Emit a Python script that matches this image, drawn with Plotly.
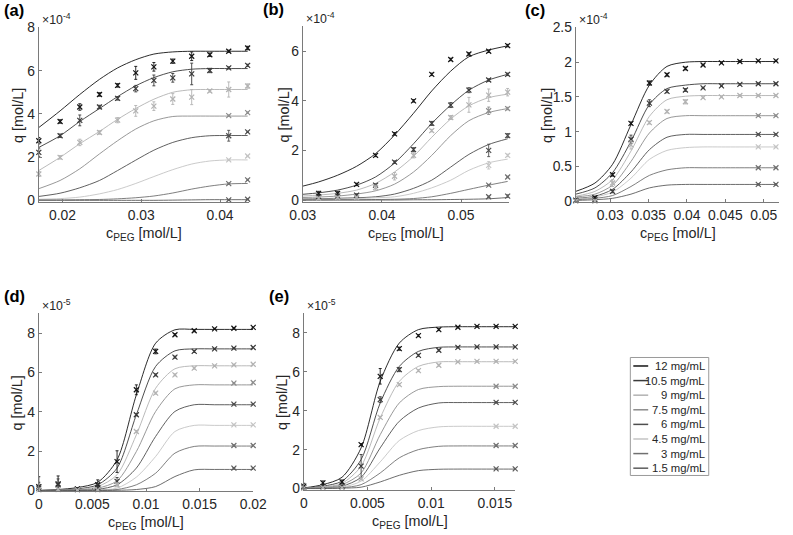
import plotly.graph_objects as go

W, H = 793, 535

LEVELS = ["12 mg/mL", "10.5 mg/mL", "9 mg/mL", "7.5 mg/mL", "6 mg/mL", "4.5 mg/mL", "3 mg/mL", "1.5 mg/mL"]
COLORS = ["#141414", "#3a3a3a", "#b2b2b2", "#8c8c8c", "#4e4e4e", "#c4c4c4", "#707070", "#5c5c5c"]

# ---- panel (a), q in 1e-4 mol/L
XA = [0.0170, 0.0197, 0.0222, 0.0247, 0.0270, 0.0293, 0.0316, 0.0340, 0.0364, 0.0387, 0.0411, 0.0435]
FIT_A = [
    [3.37, 4.14, 4.90, 5.60, 6.13, 6.51, 6.77, 6.87, 6.90, 6.90, 6.90, 6.90],
    [2.45, 2.99, 3.65, 4.25, 4.80, 5.30, 5.68, 5.95, 6.07, 6.10, 6.10, 6.10],
    [1.38, 1.99, 2.62, 3.19, 3.75, 4.25, 4.68, 5.00, 5.12, 5.13, 5.13, 5.13],
    [0.54, 0.92, 1.46, 2.15, 2.76, 3.30, 3.68, 3.88, 3.90, 3.90, 3.90, 3.90],
    [0.18, 0.33, 0.58, 0.92, 1.38, 1.86, 2.32, 2.68, 2.90, 2.99, 3.00, 3.00],
    [0.05, 0.08, 0.15, 0.30, 0.50, 0.78, 1.10, 1.42, 1.68, 1.82, 1.87, 1.87],
    [0.02, 0.02, 0.03, 0.04, 0.07, 0.12, 0.20, 0.34, 0.52, 0.66, 0.76, 0.78],
    [0.00, 0.00, 0.00, 0.00, 0.00, 0.00, 0.00, 0.01, 0.02, 0.03, 0.03, 0.03],
]
DATA_A = [
    [2.76, 3.65, 4.32, 4.90, 5.32, 5.90, 6.18, 6.44, 6.67, 6.74, 6.90, 7.05],
    [2.22, 2.99, 3.70, 4.32, 4.72, 5.17, 5.55, 5.67, 5.85, 6.01, 6.13, 6.25],
    [1.22, 1.99, 2.68, 3.14, 3.71, 4.14, 4.36, 4.69, 4.78, 5.06, 5.13, 5.29],
]
ERR_A = [
    [0.15, 0.08, 0.15, 0.08, 0.08, 0.30, 0.20, 0.10, 0.20, 0.08, 0.05, 0.08],
    [0.20, 0.08, 0.25, 0.08, 0.08, 0.15, 0.25, 0.20, 0.50, 0.10, 0.05, 0.05],
    [0.12, 0.08, 0.15, 0.08, 0.12, 0.25, 0.20, 0.25, 0.35, 0.05, 0.35, 0.10],
]
END_A = [[3.92, 4.06], [2.99, 3.17], [1.87, 2.05], [0.77, 0.95], [0.02, 0.05]]
END_ERR_A = [[0.03, 0.03], [0.25, 0.03], [0.03, 0.03], [0.03, 0.03], [0.02, 0.02]]

# ---- panel (b), q in 1e-4 mol/L
XB = [0.0300, 0.0320, 0.0344, 0.0368, 0.0392, 0.0416, 0.0440, 0.0463, 0.0487, 0.0510, 0.0535, 0.0559]
FIT_B = [
    [0.56, 0.73, 1.00, 1.36, 1.87, 2.62, 3.50, 4.40, 5.20, 5.78, 6.05, 6.22],
    [0.23, 0.29, 0.40, 0.60, 0.93, 1.49, 2.27, 3.09, 3.83, 4.43, 4.84, 5.07],
    [0.16, 0.20, 0.27, 0.40, 0.67, 1.13, 1.76, 2.53, 3.27, 3.80, 4.13, 4.27],
    [0.10, 0.12, 0.16, 0.24, 0.37, 0.64, 1.13, 1.80, 2.60, 3.20, 3.53, 3.69],
    [0.04, 0.05, 0.07, 0.09, 0.13, 0.24, 0.47, 0.80, 1.33, 1.84, 2.24, 2.47],
    [0.02, 0.03, 0.04, 0.06, 0.09, 0.13, 0.27, 0.49, 0.80, 1.20, 1.50, 1.65],
    [0.00, 0.00, 0.01, 0.01, 0.02, 0.03, 0.06, 0.13, 0.27, 0.43, 0.60, 0.75],
    [0.00, 0.00, 0.00, 0.00, 0.00, 0.00, 0.01, 0.01, 0.02, 0.03, 0.05, 0.10],
]
DATA_B = [
    [0.27, 0.27, 0.63, 1.80, 2.67, 4.00, 5.07, 5.67, 5.89, 6.00, 6.23],
    [0.13, 0.16, 0.20, 0.60, 1.53, 2.03, 3.09, 3.83, 4.43, 4.84, 5.07],
    [0.07, 0.10, 0.10, 0.50, 0.96, 1.80, 2.80, 3.33, 3.84, 4.23, 4.35],
]
ERR_B = [
    [0.08, 0.08, 0.05, 0.05, 0.05, 0.05, 0.05, 0.05, 0.05, 0.05, 0.05],
    [0.05, 0.05, 0.05, 0.05, 0.05, 0.08, 0.08, 0.10, 0.10, 0.05, 0.05],
    [0.05, 0.05, 0.05, 0.10, 0.15, 0.10, 0.05, 0.08, 0.30, 0.25, 0.15],
]
END_B = [[3.60, 3.69], [2.00, 2.60], [1.40, 1.80], [0.60, 0.93], [0.13, 0.16]]
END_ERR_B = [[0.15, 0.05], [0.25, 0.08], [0.15, 0.05], [0.03, 0.03], [0.03, 0.05]]

# ---- panel (c), q in 1e-4 mol/L
XC = [0.0255, 0.0280, 0.0303, 0.0327, 0.0351, 0.0374, 0.0398, 0.0421, 0.0445, 0.0469, 0.0493, 0.0516]
FIT_C = [
    [0.14, 0.26, 0.53, 1.10, 1.67, 1.94, 2.00, 2.01, 2.01, 2.01, 2.01, 2.01],
    [0.10, 0.19, 0.41, 0.86, 1.39, 1.62, 1.67, 1.69, 1.69, 1.69, 1.69, 1.69],
    [0.07, 0.14, 0.31, 0.72, 1.22, 1.46, 1.51, 1.52, 1.52, 1.52, 1.52, 1.52],
    [0.06, 0.10, 0.23, 0.57, 0.98, 1.19, 1.23, 1.23, 1.23, 1.23, 1.23, 1.23],
    [0.04, 0.07, 0.17, 0.42, 0.74, 0.92, 0.96, 0.96, 0.96, 0.96, 0.96, 0.96],
    [0.03, 0.06, 0.13, 0.33, 0.60, 0.73, 0.77, 0.78, 0.78, 0.78, 0.78, 0.78],
    [0.02, 0.04, 0.08, 0.21, 0.37, 0.45, 0.48, 0.48, 0.48, 0.48, 0.48, 0.48],
    [0.01, 0.02, 0.04, 0.10, 0.19, 0.23, 0.24, 0.24, 0.24, 0.24, 0.24, 0.24],
]
DATA_C = [
    [0.01, 0.05, 0.38, 1.12, 1.70, 1.82, 1.91, 1.96, 1.99, 2.01, 2.02, 2.02],
    [0.01, 0.02, 0.14, 0.89, 1.41, 1.58, 1.60, 1.63, 1.66, 1.68, 1.69, 1.69],
    [0.00, 0.00, 0.26, 0.81, 1.13, 1.29, 1.43, 1.49, 1.50, 1.52, 1.52, 1.52],
]
ERR_C = [
    [0.02, 0.02, 0.02, 0.02, 0.03, 0.02, 0.02, 0.01, 0.01, 0.01, 0.01, 0.01],
    [0.02, 0.02, 0.02, 0.06, 0.05, 0.02, 0.02, 0.01, 0.01, 0.01, 0.01, 0.01],
    [0.02, 0.02, 0.05, 0.06, 0.02, 0.02, 0.03, 0.01, 0.01, 0.01, 0.01, 0.01],
]
END_C = [[1.23, 1.23], [0.96, 0.96], [0.78, 0.78], [0.48, 0.48], [0.24, 0.24]]
END_ERR_C = [[0.01, 0.01], [0.01, 0.01], [0.01, 0.01], [0.01, 0.01], [0.01, 0.01]]

# ---- panel (d), q in 1e-5 mol/L
XD = [0.0000, 0.0018, 0.0036, 0.0055, 0.0073, 0.0091, 0.0109, 0.0127, 0.0145, 0.0164, 0.0182, 0.0200]
FIT_D = [
    [0.00, 0.05, 0.15, 0.42, 1.56, 4.86, 7.49, 8.17, 8.19, 8.19, 8.19, 8.19],
    [0.00, 0.03, 0.08, 0.29, 1.14, 3.85, 6.31, 7.10, 7.20, 7.20, 7.20, 7.20],
    [0.00, 0.02, 0.05, 0.20, 0.80, 2.83, 5.20, 6.19, 6.34, 6.34, 6.34, 6.34],
    [0.00, 0.01, 0.03, 0.12, 0.49, 1.98, 4.02, 5.17, 5.37, 5.37, 5.37, 5.37],
    [0.00, 0.00, 0.02, 0.06, 0.29, 1.14, 2.75, 4.02, 4.36, 4.36, 4.36, 4.36],
    [0.00, 0.00, 0.01, 0.03, 0.12, 0.68, 1.73, 3.00, 3.31, 3.31, 3.31, 3.31],
    [0.00, 0.00, 0.00, 0.01, 0.05, 0.29, 0.88, 1.90, 2.24, 2.26, 2.26, 2.26],
    [0.00, 0.00, 0.00, 0.00, 0.01, 0.05, 0.20, 0.71, 1.05, 1.07, 1.07, 1.07],
]
DATA_D = [
    [0.20, 0.34, 0.08, 0.29, 1.47, 5.12, 7.07, 7.92, 8.12, 8.22, 8.25, 8.29],
    [0.12, 0.29, 0.05, 0.15, 0.46, 3.85, 5.88, 6.78, 7.07, 7.20, 7.24, 7.27],
    [0.03, 0.05, 0.03, 0.03, 0.29, 3.00, 4.95, 5.88, 6.22, 6.34, 6.39, 6.42],
]
ERR_D = [
    [0.50, 0.40, 0.05, 0.25, 0.55, 0.25, 0.12, 0.05, 0.05, 0.03, 0.03, 0.03],
    [0.30, 0.30, 0.05, 0.15, 0.20, 0.05, 0.05, 0.05, 0.05, 0.03, 0.03, 0.03],
    [0.10, 0.05, 0.03, 0.03, 0.10, 0.05, 0.05, 0.05, 0.05, 0.03, 0.03, 0.03],
]
END_D = [[5.46, 5.49], [4.39, 4.39], [3.34, 3.34], [2.29, 2.29], [1.14, 1.14]]
END_ERR_D = [[0.03, 0.03], [0.03, 0.03], [0.03, 0.03], [0.03, 0.03], [0.03, 0.03]]

# ---- panel (e), q in 1e-5 mol/L
XE = [0.0000, 0.0015, 0.0030, 0.0045, 0.0060, 0.0075, 0.0090, 0.0106, 0.0121, 0.0136, 0.0151, 0.0166]
FIT_E = [
    [0.03, 0.20, 0.58, 2.09, 5.51, 7.48, 8.17, 8.30, 8.32, 8.32, 8.32, 8.32],
    [0.02, 0.12, 0.38, 1.49, 4.40, 6.28, 7.05, 7.26, 7.28, 7.28, 7.28, 7.28],
    [0.01, 0.08, 0.27, 1.15, 3.63, 5.51, 6.28, 6.51, 6.52, 6.52, 6.52, 6.52],
    [0.01, 0.05, 0.20, 0.80, 2.77, 4.40, 5.09, 5.24, 5.26, 5.26, 5.26, 5.26],
    [0.00, 0.03, 0.12, 0.58, 2.09, 3.46, 4.14, 4.40, 4.42, 4.42, 4.42, 4.42],
    [0.00, 0.02, 0.07, 0.38, 1.37, 2.47, 2.98, 3.17, 3.20, 3.20, 3.20, 3.20],
    [0.00, 0.01, 0.04, 0.20, 0.80, 1.58, 2.00, 2.17, 2.19, 2.19, 2.19, 2.19],
    [0.00, 0.00, 0.02, 0.07, 0.34, 0.68, 0.92, 0.99, 1.00, 1.00, 1.00, 1.00],
]
DATA_E = [
    [0.12, 0.29, 0.34, 2.26, 5.77, 7.19, 7.86, 8.17, 8.29, 8.34, 8.34, 8.34],
    [0.05, 0.10, 0.10, 1.15, 4.57, 6.11, 6.85, 7.11, 7.26, 7.28, 7.28, 7.28],
    [0.02, 0.05, 0.05, 0.50, 3.66, 5.34, 6.06, 6.34, 6.51, 6.54, 6.54, 6.54],
]
ERR_E = [
    [0.15, 0.10, 0.10, 0.05, 0.40, 0.08, 0.05, 0.05, 0.03, 0.03, 0.03, 0.03],
    [0.05, 0.05, 0.05, 0.60, 0.15, 0.10, 0.05, 0.05, 0.03, 0.03, 0.03, 0.03],
    [0.03, 0.03, 0.03, 0.05, 0.05, 0.05, 0.05, 0.05, 0.03, 0.03, 0.03, 0.03],
]
END_E = [[5.26, 5.26], [4.43, 4.43], [3.20, 3.20], [2.21, 2.21], [1.01, 1.01]]
END_ERR_E = [[0.03, 0.03], [0.03, 0.03], [0.03, 0.03], [0.03, 0.03], [0.03, 0.03]]

# label, x, fit, data, err, end data, end err, first data index, x range, y range,
# y ticks, x ticks, x tick text, exponent, box (left, right, top, bottom) in picture px,
# letter x, y-title x
PANELS = [
    ("(a)", XA, FIT_A, DATA_A, ERR_A, END_A, END_ERR_A, 0, [0.0170, 0.0437], [-0.1, 8],
     [0, 2, 4, 6, 8], [0.02, 0.03, 0.04], ["0.02", "0.03", "0.04"], "-4",
     (36, 248, 26, 201), 11, 15),
    ("(b)", XB, FIT_B, DATA_B, ERR_B, END_B, END_ERR_B, 1, [0.0300, 0.0561], [-0.1, 7],
     [0, 2, 4, 6], [0.03, 0.04, 0.05], ["0.03", "0.04", "0.05"], "-4",
     (302, 510, 25, 201), 272, 284),
    ("(c)", XC, FIT_C, DATA_C, ERR_C, END_C, END_ERR_C, 0, [0.0255, 0.0520], [-0.02, 2.5],
     [0, 0.5, 1, 1.5, 2, 2.5], [0.03, 0.035, 0.04, 0.045, 0.05], ["0.03", "0.035", "0.04", "0.045", "0.05"], "-4",
     (577, 783, 26, 201), 536, 548),
    ("(d)", XD, FIT_D, DATA_D, ERR_D, END_D, END_ERR_D, 0, [0.0, 0.0200], [-0.05, 9],
     [0, 2, 4, 6, 8], [0, 0.005, 0.01, 0.015, 0.02], ["0", "0.005", "0.01", "0.015", "0.02"], "-5",
     (36, 252, 312, 490), 11, 15),
    ("(e)", XE, FIT_E, DATA_E, ERR_E, END_E, END_ERR_E, 0, [0.0, 0.0166], [-0.1, 9],
     [0, 2, 4, 6, 8], [0, 0.005, 0.01, 0.015], ["0", "0.005", "0.01", "0.015"], "-5",
     (303, 516, 312, 489), 278, 281),
]

# the photographed page comes out shrunk and centred, so picture px -> paper px
SC, OX, OY = 0.972, 11.0, 6.5


def fx(p):
    return min(max((p - OX) / SC / W, 0.0), 1.0)


def fy(p):
    return min(max(1 - (p - OY) / SC / H, 0.0), 1.0)


def fs(s):
    return s / SC


FONT = "Liberation Sans, Arial, sans-serif"
TXT = "#262626"
AXC = "#7a7a7a"

fig = go.Figure()
annotations = []
shapes = []

for i, (lab, xs, fit, data, err, ends, end_err, d0, xr, yr, yt, xt, xtt, expo, box, lx, tx) in enumerate(PANELS):
    n = "" if i == 0 else str(i + 1)
    xa, ya = "x" + n, "y" + n
    px0, px1, py0, py1 = box
    for k in range(8):
        fig.add_trace(go.Scatter(x=xs, y=fit[k], mode="lines",
                                 line=dict(color=COLORS[k], width=0.9, shape="spline", smoothing=0.8),
                                 xaxis=xa, yaxis=ya, showlegend=False, hoverinfo="skip"))
    for k in range(3):
        fig.add_trace(go.Scatter(x=xs[d0:], y=data[k], mode="markers", cliponaxis=False,
                                 marker=dict(symbol="x-thin", size=5, line=dict(color=COLORS[k], width=1.2)),
                                 error_y=dict(type="data", array=err[k], color=COLORS[k], thickness=0.9, width=1.5),
                                 xaxis=xa, yaxis=ya, showlegend=False))
    for k in range(5):
        fig.add_trace(go.Scatter(x=xs[-2:], y=ends[k], mode="markers", cliponaxis=False,
                                 marker=dict(symbol="x-thin", size=5, line=dict(color=COLORS[k + 3], width=1.2)),
                                 error_y=dict(type="data", array=end_err[k], color=COLORS[k + 3], thickness=0.9, width=1.5),
                                 xaxis=xa, yaxis=ya, showlegend=False))
    common = dict(showline=True, linecolor=AXC, linewidth=1, ticks="inside", ticklen=3, tickcolor=AXC,
                  showgrid=False, zeroline=False, tickfont=dict(family=FONT, size=fs(13.5), color=TXT))
    fig.layout["xaxis" + n] = dict(domain=[fx(px0), fx(px1)], range=xr, anchor=ya, tickvals=xt, ticktext=xtt, **common)
    fig.layout["yaxis" + n] = dict(domain=[fy(py1), fy(py0)], range=yr, anchor=xa, tickvals=yt,
                                   ticktext=[("%g" % v) for v in yt], **common)
    annotations.append(dict(x=fx(lx), y=fy(py0 - 17), xref="paper", yref="paper",
                            text="<b>%s</b>" % lab, showarrow=False, xanchor="center", yanchor="middle",
                            font=dict(family=FONT, size=fs(16), color="#000000")))
    annotations.append(dict(x=fx(px0 + 1), y=fy(py0 - 8), xref="paper", yref="paper",
                            text="\u00d710<sup>%s</sup>" % expo, showarrow=False, xanchor="left", yanchor="middle",
                            font=dict(family=FONT, size=fs(12), color=TXT)))
    annotations.append(dict(x=fx(tx), y=fy((py0 + py1) / 2), xref="paper", yref="paper",
                            text="q [mol/L]", textangle=-90, showarrow=False, xanchor="center", yanchor="middle",
                            font=dict(family=FONT, size=fs(14), color=TXT)))
    annotations.append(dict(x=fx((px0 + px1) / 2), y=fy(py1 + 32), xref="paper", yref="paper",
                            text="c<sub>PEG</sub> [mol/L]", showarrow=False, xanchor="center", yanchor="middle",
                            font=dict(family=FONT, size=fs(14), color=TXT)))

# legend box drawn by hand to keep right-aligned labels
lx0, lx1, ly0, ly1 = 632, 711, 356, 474
shapes.append(dict(type="rect", xref="paper", yref="paper", x0=fx(lx0), x1=fx(lx1), y0=fy(ly1), y1=fy(ly0),
                   line=dict(color="#9a9a9a", width=1), fillcolor="white"))
for k, name in enumerate(LEVELS):
    yy = 364.5 + k * 14.6
    shapes.append(dict(type="line", xref="paper", yref="paper", x0=fx(635), x1=fx(650), y0=fy(yy), y1=fy(yy),
                       line=dict(color=COLORS[k], width=1.5)))
    annotations.append(dict(x=fx(709), y=fy(yy), xref="paper", yref="paper", text=name, showarrow=False,
                            xanchor="right", yanchor="middle", font=dict(family=FONT, size=fs(11), color=TXT)))

fig.update_layout(width=W, height=H, margin=dict(l=0, r=0, t=0, b=0), paper_bgcolor="white", plot_bgcolor="white",
                  annotations=annotations, shapes=shapes, showlegend=False)
fig.write_html("out.html", config={"displayModeBar": False}, post_script="document.body.style.margin='0';")
